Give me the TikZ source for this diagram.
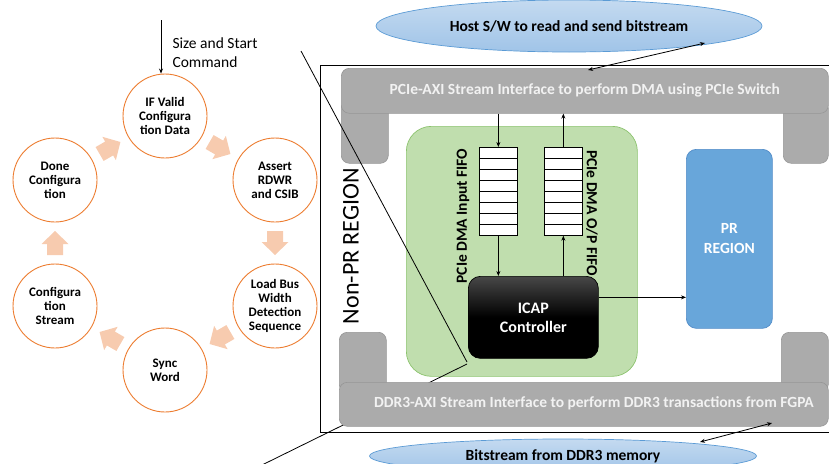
\documentclass[tikz,border=0pt]{standalone}
\usepackage{fontspec}
\setmainfont{Carlito}
\usetikzlibrary{arrows.meta,shapes.geometric,calc}
\definecolor{barfill}{RGB}{171,171,171}
\definecolor{barline}{RGB}{150,150,150}
\definecolor{bartext}{RGB}{242,242,242}
\definecolor{greenfill}{RGB}{192,222,174}
\definecolor{greenline}{RGB}{140,195,110}
\definecolor{prfill}{RGB}{104,166,218}
\definecolor{prline}{RGB}{82,140,200}
\definecolor{elltop}{RGB}{196,218,240}
\definecolor{ellbot}{RGB}{160,196,232}
\definecolor{elline}{RGB}{91,155,213}
\definecolor{orng}{RGB}{237,125,49}
\definecolor{pinkarr}{RGB}{247,203,175}
\tikzset{
  graybar/.style={draw=barline, fill=barfill, rounded corners=8pt, line width=0.6pt, inner sep=0pt, anchor=north west},
  bartxt/.style={text=bartext, font=\bfseries\fontsize{15.5}{17}\selectfont},
  ellnode/.style={ellipse, draw=elline, top color=elltop, bottom color=ellbot, line width=0.7pt, inner sep=0pt, font=\bfseries\fontsize{15.5}{17}\selectfont},
  state/.style={circle, draw=orng, fill=white, line width=0.9pt, minimum size=84pt, inner sep=0pt, align=center, font=\bfseries\fontsize{13}{14}\selectfont},
  fifo/.style={draw=black, fill=white, line width=0.7pt, minimum width=38pt, minimum height=88pt, inner sep=0pt, anchor=north west},
  conn/.style={line width=0.8pt, -{Stealth[length=5pt,width=4pt]}},
  dconn/.style={line width=0.8pt, {Stealth[length=5pt,width=4pt]}-{Stealth[length=5pt,width=4pt]}},
  zoomline/.style={line width=0.8pt, black},
  cyc/.pic={\fill[pinkarr] (-12,-8) -- (-1,-8) -- (-1,-13.5) -- (12,0) -- (-1,13.5) -- (-1,8) -- (-12,8) -- cycle;}
}
\begin{document}
\begin{tikzpicture}[x=1pt,y=-1pt]
\useasboundingbox (0,0) rectangle (829,463);
% ellipses
\node[ellnode, minimum width=386pt, minimum height=52pt] (host) at (569,26) {Host S/W to read and send bitstream};
\node[ellnode, minimum width=387pt, minimum height=34pt] (ddrmem) at (563,456) {Bitstream from DDR3 memory};
% outer box
\draw[line width=1pt] (835,65) -- (320,65) -- (320,432) -- (835,432);
% top bar with legs
\node[graybar, minimum width=47pt, minimum height=63pt] (tlegl) at (341,100) {};
\node[graybar, minimum width=45pt, minimum height=63pt] (tlegr) at (783,100) {};
\node[graybar, minimum width=487pt, minimum height=45pt] (pcie) at (341,68) {};
\node[bartxt] at (pcie.center) {PCIe-AXI Stream Interface to perform DMA using PCIe Switch};
% green region
\node[draw=greenline, fill=greenfill, rounded corners=25pt, line width=0.7pt, minimum width=231pt, minimum height=250pt, anchor=north west, inner sep=0pt] (green) at (406,126) {};
% FIFOs
\node[fifo] (fifo1) at (479,147) {};
\node[fifo] (fifo2) at (544,147) {};
\foreach \i in {1,...,7}{
  \draw[line width=0.7pt] ($(fifo1.north west)!\i/8!(fifo1.south west)$) -- ($(fifo1.north east)!\i/8!(fifo1.south east)$);
  \draw[line width=0.7pt] ($(fifo2.north west)!\i/8!(fifo2.south west)$) -- ($(fifo2.north east)!\i/8!(fifo2.south east)$);
}
\node[rotate=90, font=\bfseries\fontsize{15.5}{17}\selectfont] (lab1) at (463,216) {PCIe DMA Input FIFO};
\node[rotate=-90, font=\bfseries\fontsize{15.5}{17}\selectfont] (lab2) at (592,213) {PCIe DMA O/P FIFO};
% ICAP
\node[draw=black, top color=black!72, bottom color=black, middle color=black, rounded corners=12pt, line width=0.7pt, minimum width=130pt, minimum height=82pt, anchor=north west, inner sep=0pt] (icap) at (468,276) {};
\node[text=white, align=center, font=\bfseries\fontsize{16}{19}\selectfont] at (icap.center) {ICAP\\Controller};
% PR region
\node[draw=prline, fill=prfill, rounded corners=10pt, line width=0.7pt, minimum width=86pt, minimum height=179pt, anchor=north west, inner sep=0pt] (pr) at (686,149) {};
\node[text=white, align=center, font=\bfseries\fontsize{15.5}{20}\selectfont] at (pr.center) {PR\\REGION};
% Non-PR label
\node[rotate=90, font=\fontsize{24}{28}\selectfont] (nonpr) at (351,246) {Non-PR REGION};
% zoom line 2 (behind bottom bar)
\coordinate (z3) at (467,364);
\coordinate (z4) at (262,465);
\draw[zoomline] (z3) -- (z4);
% bottom bar with legs
\node[graybar, minimum width=47pt, minimum height=60pt] (blegl) at (339,332) {};
\node[graybar, minimum width=47pt, minimum height=60pt] (blegr) at (781,332) {};
\node[graybar, minimum width=489pt, minimum height=44pt] (ddrbar) at (339,382) {};
\node[bartxt] at (594,403) {DDR3-AXI Stream Interface to perform DDR3 transactions from FGPA};
% zoom line 1
\coordinate (z1) at (301,51);
\coordinate (z2) at (467,362);
\draw[zoomline] (z1) -- (z2);
% connectors
\draw[conn] (fifo1.north |- pcie.south) -- (fifo1.north);
\draw[conn] (fifo1.south) -- (fifo1.south |- icap.north);
\draw[conn] (fifo2.south |- icap.north) -- (fifo2.south);
\draw[conn] (fifo2.north) -- (fifo2.north |- pcie.south);
\draw[conn] ([yshift=20pt]icap.east) -- ([yshift=20pt]icap.east -| pr.west);
\coordinate (h1) at (588,70);
\coordinate (h2) at (705,43);
\draw[dconn] (h1) -- (h2);
\coordinate (d1) at (700,442);
\coordinate (d2) at (772,423);
\draw[dconn] (d1) -- (d2);
% cycle
\node[state] (s1) at (165,116) {IF Valid\\Configura\\tion Data};
\node[state] (s2) at (275,180) {Assert\\RDWR\\and CSIB};
\node[state] (s3) at (275,306) {Load Bus\\Width\\Detection\\Sequence};
\node[state] (s4) at (165,370) {Sync\\Word};
\node[state] (s5) at (55,306) {Configura\\tion\\Stream};
\node[state] (s6) at (55,180) {Done\\Configura\\tion};
\pic[rotate=30] at ($(s6)!0.5!(s1)$) {cyc};
\pic[rotate=-30] at ($(s1)!0.5!(s2)$) {cyc};
\pic[rotate=-90] at ($(s2)!0.5!(s3)$) {cyc};
\pic[rotate=-150] at ($(s3)!0.5!(s4)$) {cyc};
\pic[rotate=150] at ($(s4)!0.5!(s5)$) {cyc};
\pic[rotate=90] at ($(s5)!0.5!(s6)$) {cyc};
% input command
\coordinate (cmd) at (161,20);
\draw[conn] (cmd) -- (s1.north -| cmd);
\node[anchor=west, align=left, font=\fontsize{15.5}{19}\selectfont] (cmdtxt) at (169,53) {Size and Start\\Command};
\end{tikzpicture}
\end{document}
